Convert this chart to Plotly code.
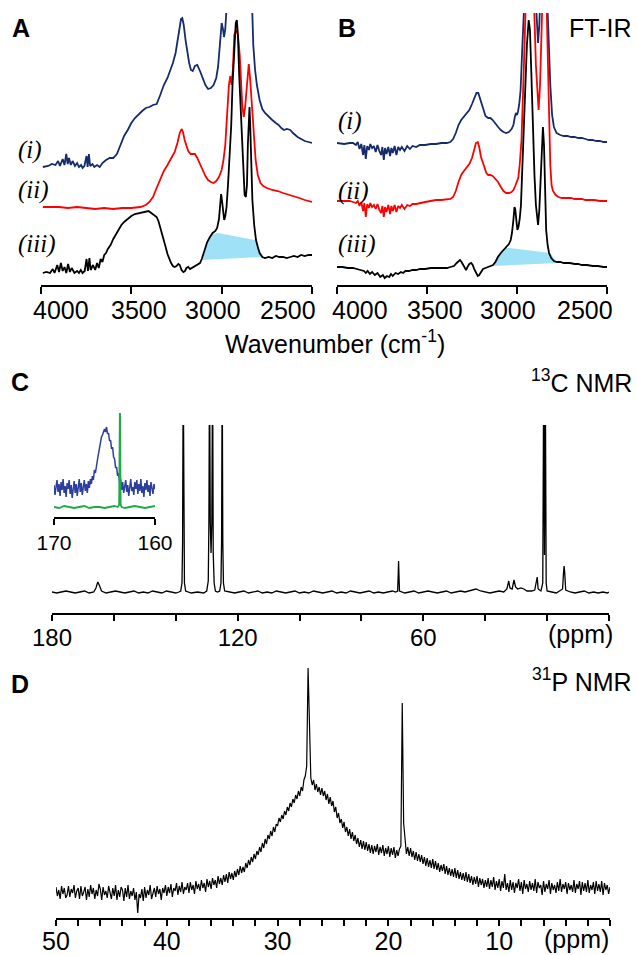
import plotly.graph_objects as go

W, H = 637, 955


def fx(p):
    return p / W


def fy(p):
    return 1 - p / H


# ---------------- FT-IR (A) : (wavenumber cm-1, absorbance a.u.) ----------------
A_I = [(3990, 118), (3960, 119), (3940, 121), (3920, 120), (3905, 124), (3895, 119), (3880, 126),
       (3870, 120), (3860, 131), (3852, 121), (3845, 127), (3835, 120), (3825, 124), (3812, 119),
       (3800, 122), (3790, 118), (3778, 120), (3770, 117), (3760, 119), (3748, 129), (3742, 118),
       (3735, 131), (3728, 119), (3715, 121), (3705, 118), (3690, 120), (3675, 118), (3660, 122),
       (3640, 125), (3620, 127), (3600, 127), (3580, 131), (3560, 140), (3540, 149), (3520, 155),
       (3500, 162), (3480, 167), (3460, 171), (3440, 174), (3420, 177), (3400, 178), (3380, 180),
       (3360, 181), (3340, 190), (3320, 200), (3300, 207), (3285, 214), (3270, 222), (3255, 232),
       (3245, 245), (3235, 258), (3225, 266), (3218, 267), (3210, 260), (3200, 245), (3190, 232),
       (3180, 222), (3170, 215), (3160, 214), (3148, 219), (3135, 220), (3120, 214), (3105, 207),
       (3090, 200), (3075, 196), (3060, 197), (3045, 200), (3030, 207), (3020, 218), (3012, 238),
       (3005, 258), (3000, 262), (2993, 256), (2987, 248), (2980, 256), (2972, 275), (2960, 330),
       (2945, 380), (2925, 420), (2905, 360), (2890, 330), (2870, 360), (2850, 400), (2835, 300),
       (2825, 240), (2815, 215), (2805, 200), (2790, 185), (2775, 176), (2760, 172), (2740, 168),
       (2720, 165), (2700, 162), (2685, 160), (2670, 157), (2655, 155), (2640, 156), (2620, 155),
       (2605, 152), (2580, 148), (2560, 146), (2540, 144), (2520, 143), (2500, 142)]

A_II = [(3990, 78), (3900, 78), (3850, 77), (3800, 78), (3750, 77), (3700, 76), (3650, 77),
        (3600, 76), (3550, 77), (3500, 77), (3450, 78), (3420, 80), (3400, 83), (3380, 88),
        (3360, 97), (3340, 106), (3320, 114), (3300, 120), (3280, 126), (3260, 133), (3245, 142),
        (3232, 152), (3222, 156), (3214, 153), (3205, 145), (3195, 138), (3185, 134), (3172, 131),
        (3160, 131), (3148, 131), (3135, 127), (3120, 120), (3105, 115), (3090, 109), (3075, 105),
        (3060, 103), (3045, 102), (3030, 104), (3015, 108), (3000, 115), (2990, 125), (2980, 140),
        (2970, 175), (2960, 200), (2952, 209), (2945, 200), (2938, 215), (2930, 250), (2920, 255),
        (2910, 250), (2900, 230), (2893, 200), (2886, 180), (2878, 168), (2870, 178), (2860, 200),
        (2850, 221), (2842, 205), (2832, 180), (2822, 150), (2812, 125), (2800, 110), (2785, 102),
        (2770, 99), (2750, 97), (2720, 95), (2690, 94), (2660, 92), (2640, 91), (2620, 90),
        (2600, 89), (2570, 87), (2540, 85), (2520, 84), (2500, 83)]

A_III = [(3990, 12), (3970, 13), (3950, 12), (3935, 16), (3925, 12), (3910, 20), (3900, 13),
         (3890, 22), (3880, 14), (3870, 18), (3860, 12), (3850, 21), (3840, 13), (3830, 17),
         (3815, 12), (3800, 14), (3790, 12), (3780, 15), (3770, 12), (3758, 14), (3748, 26),
         (3740, 14), (3732, 27), (3725, 15), (3712, 20), (3700, 15), (3690, 22), (3680, 17),
         (3670, 26), (3660, 23), (3650, 30), (3640, 32), (3630, 36), (3615, 40), (3600, 46),
         (3585, 51), (3570, 55), (3555, 60), (3540, 63), (3520, 66), (3500, 69), (3480, 71),
         (3460, 72), (3440, 73), (3420, 74), (3405, 74), (3390, 72), (3375, 70), (3360, 68),
         (3350, 64), (3340, 58), (3330, 52), (3320, 45), (3310, 38), (3300, 31), (3290, 26),
         (3280, 22), (3270, 19), (3260, 18), (3250, 19), (3240, 21), (3232, 20), (3222, 15),
         (3212, 13), (3203, 14), (3195, 17), (3185, 18), (3175, 16), (3165, 17), (3150, 19),
         (3135, 20), (3120, 22), (3110, 26), (3100, 31), (3090, 38), (3080, 43), (3065, 48),
         (3050, 52), (3035, 54), (3025, 57), (3015, 66), (3008, 85), (3003, 91), (2998, 84),
         (2992, 70), (2986, 65), (2980, 69), (2973, 78), (2965, 100), (2955, 135), (2947, 160),
         (2940, 200), (2930, 240), (2922, 262), (2916, 265), (2910, 250), (2903, 210), (2896, 180),
         (2888, 140), (2880, 110), (2873, 90), (2866, 88), (2860, 100), (2855, 140), (2850, 175),
         (2846, 178), (2842, 160), (2836, 115), (2830, 85), (2820, 60), (2810, 45), (2800, 38),
         (2790, 32), (2775, 28), (2760, 27), (2740, 28), (2720, 27), (2700, 29), (2680, 28),
         (2660, 28), (2640, 27), (2620, 28), (2600, 29), (2580, 28), (2560, 30), (2540, 29),
         (2520, 30), (2500, 30)]

A_AREA = [(3105, 25), (3090, 38), (3080, 43), (3065, 48), (3050, 51), (3020, 52),
          (2816, 45), (2771, 28)]

# ---------------- FT-IR (B) ----------------
B_I = [(4000, 142), (3960, 141), (3930, 142), (3911, 142), (3895, 140), (3885, 143), (3875, 136),
       (3865, 141), (3855, 130), (3848, 140), (3840, 126), (3832, 139), (3822, 135), (3815, 141),
       (3805, 137), (3795, 139), (3785, 133), (3775, 140), (3765, 134), (3755, 130), (3748, 138),
       (3740, 125), (3733, 137), (3725, 131), (3715, 138), (3705, 129), (3698, 137), (3690, 132),
       (3680, 139), (3670, 130), (3660, 138), (3650, 135), (3640, 138), (3625, 134), (3610, 139),
       (3595, 136), (3580, 139), (3560, 138), (3540, 140), (3510, 140), (3480, 141), (3450, 141),
       (3420, 142), (3390, 142), (3370, 143), (3355, 146), (3340, 152), (3325, 160), (3310, 165),
       (3295, 168), (3280, 171), (3265, 175), (3250, 181), (3235, 188), (3225, 192), (3215, 192),
       (3205, 186), (3195, 179), (3185, 173), (3175, 169), (3160, 167), (3148, 167), (3135, 165),
       (3120, 161), (3105, 158), (3090, 155), (3075, 153), (3060, 152), (3045, 153), (3030, 156),
       (3020, 160), (3012, 168), (3006, 172), (3000, 170), (2995, 173), (2988, 180), (2980, 195),
       (2970, 240), (2960, 290), (2945, 380), (2930, 400), (2915, 350), (2900, 300), (2890, 260),
       (2883, 242), (2876, 260), (2866, 320), (2850, 400), (2835, 300), (2825, 240), (2815, 200),
       (2805, 170), (2795, 158), (2780, 152), (2760, 150), (2740, 149), (2720, 149), (2700, 148),
       (2680, 148), (2660, 147), (2640, 147), (2620, 146), (2600, 145), (2580, 145), (2560, 144),
       (2540, 144), (2520, 143), (2500, 143)]

B_II = [(4000, 84), (3960, 84), (3930, 84), (3911, 83), (3895, 82), (3885, 84), (3875, 79),
        (3865, 83), (3855, 74), (3848, 82), (3840, 68), (3832, 81), (3822, 77), (3815, 82),
        (3805, 78), (3795, 80), (3785, 76), (3775, 81), (3765, 75), (3755, 72), (3748, 79),
        (3740, 68), (3733, 78), (3725, 73), (3715, 80), (3705, 71), (3698, 79), (3690, 74),
        (3680, 80), (3670, 73), (3660, 79), (3650, 77), (3640, 80), (3625, 76), (3610, 80),
        (3595, 79), (3580, 81), (3560, 81), (3540, 82), (3510, 83), (3480, 84), (3450, 85),
        (3420, 85), (3390, 86), (3370, 86), (3355, 88), (3340, 94), (3325, 103), (3310, 110),
        (3295, 114), (3280, 117), (3265, 121), (3250, 127), (3240, 135), (3228, 142), (3218, 143),
        (3210, 138), (3200, 128), (3190, 123), (3180, 117), (3170, 112), (3160, 110), (3148, 110),
        (3135, 109), (3120, 106), (3105, 103), (3090, 98), (3075, 94), (3060, 92), (3045, 92),
        (3030, 93), (3020, 95), (3010, 99), (3000, 103), (2993, 107), (2985, 120), (2975, 145),
        (2965, 200), (2955, 280), (2940, 350), (2920, 330), (2905, 280), (2895, 220), (2885, 180),
        (2880, 175), (2872, 200), (2862, 280), (2850, 340), (2838, 300), (2830, 230), (2822, 160),
        (2815, 120), (2808, 100), (2800, 94), (2785, 90), (2770, 88), (2750, 87), (2730, 87),
        (2700, 87), (2680, 86), (2660, 86), (2640, 86), (2620, 85), (2600, 85), (2570, 85),
        (2540, 84), (2500, 84)]

B_III = [(4000, 18), (3970, 18), (3940, 17), (3911, 17), (3890, 16), (3870, 15), (3850, 14),
         (3840, 12), (3830, 14), (3817, 11), (3805, 13), (3790, 10), (3775, 12), (3760, 8),
         (3745, 10), (3735, 7), (3722, 9), (3710, 8), (3700, 11), (3690, 9), (3675, 12), (3660, 11),
         (3645, 13), (3633, 12), (3620, 14), (3600, 14), (3580, 15), (3560, 15), (3539, 16),
         (3510, 16), (3480, 17), (3450, 17), (3420, 17), (3389, 17), (3370, 18), (3350, 19),
         (3335, 22), (3325, 24), (3317, 25), (3308, 23), (3300, 20), (3292, 17), (3283, 15),
         (3275, 18), (3265, 21), (3255, 22), (3246, 20), (3238, 16), (3228, 12), (3218, 9),
         (3210, 10), (3200, 13), (3189, 16), (3175, 17), (3161, 18), (3145, 19), (3133, 20),
         (3120, 23), (3106, 28), (3090, 32), (3075, 35), (3060, 38), (3045, 41), (3035, 45),
         (3028, 52), (3020, 65), (3014, 78), (3010, 76), (3004, 62), (2998, 55), (2992, 58),
         (2985, 66), (2978, 80), (2970, 120), (2962, 170), (2955, 200), (2945, 240), (2935, 265),
         (2928, 255), (2920, 210), (2911, 152), (2903, 110), (2895, 80), (2888, 64), (2883, 60),
         (2876, 75), (2868, 110), (2862, 145), (2856, 158), (2850, 140), (2844, 80), (2838, 55),
         (2830, 40), (2822, 32), (2810, 27), (2795, 24), (2778, 23), (2760, 23), (2740, 22),
         (2720, 22), (2706, 22), (2680, 21), (2660, 21), (2640, 20), (2611, 20), (2580, 19),
         (2550, 19), (2520, 18), (2500, 18)]

B_AREA = [(3133, 19), (3120, 23), (3106, 28), (3090, 32), (3075, 35), (3060, 37), (3040, 37),
          (2817, 32), (2772, 22)]

IR_TICKS = [4000, 3500, 3000, 2500]

# ---------------- 13C NMR (C) : (ppm, intensity) ----------------
C_MAIN = [(180, 21), (178.5, 20), (177, 21), (175.5, 22), (174, 21), (172.5, 20), (171, 21),
          (169.5, 22), (168, 20), (166.5, 21), (165.8, 25),
          (165.2, 31), (164.6, 27), (164.0, 22), (162.5, 20), (161, 21), (159.5, 22), (158, 21),
          (156.5, 20), (155, 21), (153.5, 22), (152, 20), (150.5, 21), (149, 20), (147.5, 22),
          (146, 21), (144.5, 20), (143, 22), (141.5, 21), (140, 20), (139, 21), (138.4, 22),
          (138.0, 30),
          (137.8, 70), (137.6, 250), (137.4, 70), (137.2, 30), (136.8, 22), (135, 20), (133, 21),
          (131, 20), (130.0, 22), (129.5, 32), (129.3, 90), (129.1, 250), (128.85, 90),
          (128.6, 60), (128.35, 90), (128.1, 250), (127.9, 60), (127.6, 30), (127.2, 22),
          (126.5, 21), (125.8, 22), (125.4, 30), (125.2, 70), (125.0, 250), (124.8, 70),
          (124.6, 30), (124.2, 22), (122.5, 21), (121, 20), (119.5, 21), (118, 22), (116.5, 20),
          (115, 21), (113.5, 22), (112, 20), (110.5, 21), (109, 20), (107.5, 22), (106, 21),
          (104.5, 20), (103, 21), (101.5, 22), (100, 20), (98.5, 21), (97, 20), (95.5, 22),
          (94, 21), (92.5, 20), (91, 21), (89.5, 22), (88, 20), (86.5, 21), (85, 20), (83.5, 22),
          (82, 21), (80.5, 20), (79, 21), (77.5, 22), (76, 20), (74.5, 21), (73, 20), (71.5, 21),
          (70, 22), (69, 21), (68.3, 22), (68.1, 40),
          (68.0, 52), (67.9, 40), (67.7, 22), (66, 20), (64.5, 21), (63, 22), (61.5, 20),
          (60, 21), (58.5, 22), (57, 21), (55.5, 20), (54, 21), (52.5, 22), (51, 20), (49.5, 21),
          (48, 22), (46.5, 21), (45, 22), (43, 24), (41.5, 22), (40, 21), (38.5, 20), (37, 21),
          (35.5, 22), (34, 21), (33, 24), (32.4, 32), (32.0, 25), (31.3, 24), (30.7, 33),
          (30.2, 26), (29.5, 24), (28.5, 25), (27.5, 24), (26.5, 22), (25, 22), (24, 23),
          (23.5, 30),
          (23.2, 36), (22.9, 24), (22.0, 22), (21.4, 30), (21.1, 250), (20.85, 58), (20.6, 250),
          (20.3, 30), (20.0, 22), (18.5, 21), (17, 20), (16, 22), (15.0, 24), (14.7, 40),
          (14.5, 47), (14.3, 40), (14.0, 23), (12.5, 21), (11, 20), (9.5, 21), (8, 22), (6.5, 20),
          (5, 21), (3.5, 20), (2, 21), (0.5, 20), (0, 21)]

C_INSET_BLUE = [(170.0, 32), (169.9, 22), (169.8, 30), (169.7, 37), (169.6, 25), (169.5, 33),
                (169.4, 21), (169.3, 35), (169.2, 27), (169.1, 38), (169.0, 24), (168.9, 31),
                (168.8, 20), (168.7, 34), (168.6, 28), (168.5, 37), (168.4, 23), (168.3, 32),
                (168.2, 19), (168.1, 30), (168.0, 36), (167.9, 24), (167.8, 33), (167.7, 21),
                (167.6, 29), (167.5, 38), (167.4, 25), (167.3, 34), (167.2, 22), (167.1, 31),
                (167.0, 37), (166.9, 26), (166.8, 33), (166.7, 24), (166.6, 36), (166.5, 29),
                (166.4, 38), (166.3, 33), (166.2, 41), (166.1, 37), (166.0, 47), (165.9, 44),
                (165.8, 54), (165.7, 57), (165.6, 63), (165.5, 69), (165.4, 72), (165.3, 80),
                (165.2, 82), (165.1, 86), (165.0, 88), (164.9, 85), (164.8, 90), (164.7, 83),
                (164.6, 84), (164.5, 76), (164.4, 77), (164.3, 68), (164.2, 70), (164.1, 60),
                (164.0, 58), (163.9, 49), (163.8, 50), (163.7, 41), (163.6, 44), (163.5, 34),
                (163.4, 38), (163.3, 27), (163.2, 35), (163.1, 24), (163.0, 33), (162.9, 37),
                (162.8, 25), (162.7, 32), (162.6, 21), (162.5, 34), (162.4, 38), (162.3, 26),
                (162.2, 30), (162.1, 22), (162.0, 35), (161.9, 28), (161.8, 37), (161.7, 23),
                (161.6, 33), (161.5, 26), (161.4, 38), (161.3, 24), (161.2, 31), (161.1, 20),
                (161.0, 34), (160.9, 27), (160.8, 37), (160.7, 25), (160.6, 32), (160.5, 21),
                (160.4, 35), (160.3, 29), (160.2, 23), (160.1, 33), (160.0, 28)]

C_INSET_GREEN = [(170, 10), (169.5, 9), (169, 11), (168.5, 10), (168, 9), (167.5, 10), (167, 11),
                 (166.5, 9), (166, 10), (165.5, 10), (165, 9), (164.5, 10), (164, 11),
                 (163.7, 10), (163.55, 12), (163.47, 120), (163.4, 12), (163.3, 10), (163, 9),
                 (162.5, 10), (162, 11), (161.5, 10), (161, 9), (160.5, 10), (160, 11)]

C_LABEL_TICKS = [180, 120, 60]
C_MINOR_TICKS = [160, 140, 100, 80, 40, 20, 0]
C_INSET_TICKS = [170, 160]

# ---------------- 31P NMR (D) ----------------
D_PPM = [50.0, 49.875, 49.75, 49.625, 49.5, 49.375, 49.25, 49.125,
         49.0, 48.875, 48.75, 48.625, 48.5, 48.375, 48.25, 48.125,
         48.0, 47.875, 47.75, 47.625, 47.5, 47.375, 47.25, 47.125,
         47.0, 46.875, 46.75, 46.625, 46.5, 46.375, 46.25, 46.125,
         46.0, 45.875, 45.75, 45.625, 45.5, 45.375, 45.25, 45.125,
         45.0, 44.875, 44.75, 44.625, 44.5, 44.375, 44.25, 44.125,
         44.0, 43.875, 43.75, 43.625, 43.5, 43.375, 43.25, 43.125,
         43.0, 42.875, 42.75, 42.625, 42.5, 42.375, 42.25, 42.125,
         42.0, 41.875, 41.75, 41.625, 41.5, 41.375, 41.25, 41.125,
         41.0, 40.875, 40.75, 40.625, 40.5, 40.375, 40.25, 40.125,
         40.0, 39.875, 39.75, 39.625, 39.5, 39.375, 39.25, 39.125,
         39.0, 38.875, 38.75, 38.625, 38.5, 38.375, 38.25, 38.125,
         38.0, 37.875, 37.75, 37.625, 37.5, 37.375, 37.25, 37.125,
         37.0, 36.875, 36.75, 36.625, 36.5, 36.375, 36.25, 36.125,
         36.0, 35.875, 35.75, 35.625, 35.5, 35.375, 35.25, 35.125,
         35.0, 34.875, 34.75, 34.625, 34.5, 34.375, 34.25, 34.125,
         34.0, 33.875, 33.75, 33.625, 33.5, 33.375, 33.25, 33.125,
         33.0, 32.875, 32.75, 32.625, 32.5, 32.375, 32.25, 32.125,
         32.0, 31.875, 31.75, 31.625, 31.5, 31.375, 31.25, 31.125,
         31.0, 30.875, 30.75, 30.625, 30.5, 30.375, 30.25, 30.125,
         30.0, 29.875, 29.75, 29.625, 29.5, 29.375, 29.25, 29.125,
         29.0, 28.875, 28.75, 28.625, 28.5, 28.375, 28.25, 28.125,
         28.0, 27.875, 27.75, 27.625, 27.5, 27.375, 27.25, 27.125,
         27.0, 26.875, 26.75, 26.625, 26.5, 26.375, 26.25, 26.125,
         26.0, 25.875, 25.75, 25.625, 25.5, 25.375, 25.25, 25.125,
         25.0, 24.875, 24.75, 24.625, 24.5, 24.375, 24.25, 24.125,
         24.0, 23.875, 23.75, 23.625, 23.5, 23.375, 23.25, 23.125,
         23.0, 22.875, 22.75, 22.625, 22.5, 22.375, 22.25, 22.125,
         22.0, 21.875, 21.75, 21.625, 21.5, 21.375, 21.25, 21.125,
         21.0, 20.875, 20.75, 20.625, 20.5, 20.375, 20.25, 20.125,
         20.0, 19.875, 19.75, 19.625, 19.5, 19.375, 19.25, 19.125,
         19.0, 18.875, 18.75, 18.625, 18.5, 18.375, 18.25, 18.125,
         18.0, 17.875, 17.75, 17.625, 17.5, 17.375, 17.25, 17.125,
         17.0, 16.875, 16.75, 16.625, 16.5, 16.375, 16.25, 16.125,
         16.0, 15.875, 15.75, 15.625, 15.5, 15.375, 15.25, 15.125,
         15.0, 14.875, 14.75, 14.625, 14.5, 14.375, 14.25, 14.125,
         14.0, 13.875, 13.75, 13.625, 13.5, 13.375, 13.25, 13.125,
         13.0, 12.875, 12.75, 12.625, 12.5, 12.375, 12.25, 12.125,
         12.0, 11.875, 11.75, 11.625, 11.5, 11.375, 11.25, 11.125,
         11.0, 10.875, 10.75, 10.625, 10.5, 10.375, 10.25, 10.125,
         10.0, 9.875, 9.75, 9.625, 9.5, 9.375, 9.25, 9.125,
         9.0, 8.875, 8.75, 8.625, 8.5, 8.375, 8.25, 8.125,
         8.0, 7.875, 7.75, 7.625, 7.5, 7.375, 7.25, 7.125,
         7.0, 6.875, 6.75, 6.625, 6.5, 6.375, 6.25, 6.125,
         6.0, 5.875, 5.75, 5.625, 5.5, 5.375, 5.25, 5.125,
         5.0, 4.875, 4.75, 4.625, 4.5, 4.375, 4.25, 4.125,
         4.0, 3.875, 3.75, 3.625, 3.5, 3.375, 3.25, 3.125,
         3.0, 2.875, 2.75, 2.625, 2.5, 2.375, 2.25, 2.125,
         2.0, 1.875, 1.75, 1.625, 1.5, 1.375, 1.25, 1.125,
         1.0, 0.875, 0.75, 0.625, 0.5, 0.375, 0.25, 0.125,
         0.0]

D_INT = [31, 22, 28, 19, 32, 24, 30, 20,
         23, 32, 21, 29, 25, 33, 20, 27,
         30, 19, 32, 22, 26, 31, 18, 29,
         21, 33, 24, 30, 19, 28, 22, 34,
         29, 18, 31, 23, 27, 20, 32, 24,
         19, 30, 22, 33, 18, 28, 21, 31,
         28, 17, 30, 21, 33, 19, 27, 22,
         30, 18, 26, 5, 24, 20, 29, 17,
         31, 20, 28, 23, 33, 19, 26, 30,
         21, 32, 24, 29, 18, 30, 25, 33,
         22, 31, 25, 34, 21, 30, 27, 35,
         23, 32, 26, 36, 24, 31, 28, 35,
         25, 36, 28, 33, 24, 37, 29, 34,
         27, 38, 30, 35, 26, 39, 31, 37,
         29, 40, 33, 38, 30, 42, 34, 40,
         33, 43, 36, 44, 35, 46, 39, 45,
         38, 47, 41, 49, 43, 52, 45, 51,
         46, 55, 50, 58, 53, 61, 56, 64,
         59, 67, 63, 71, 66, 75, 70, 79,
         74, 83, 79, 87, 82, 91, 86, 94,
         92, 100, 96, 103, 99, 107, 103, 111,
         107, 115, 111, 119, 115, 123, 119, 127,
         122, 131, 127, 138, 142, 152, 250, 175,
         140, 133, 138, 128, 134, 126, 131, 123,
         130, 122, 127, 118, 124, 114, 121, 112,
         117, 106, 111, 100, 105, 95, 99, 90,
         96, 86, 91, 82, 89, 79, 86, 77,
         83, 74, 80, 71, 78, 69, 77, 68,
         76, 67, 74, 65, 73, 64, 72, 66,
         74, 63, 71, 65, 73, 62, 70, 64,
         72, 61, 70, 63, 71, 60, 68, 62,
         69, 72, 215, 95, 74, 64, 71, 62,
         70, 61, 67, 58, 66, 57, 64, 56,
         63, 54, 61, 52, 60, 51, 58, 50,
         59, 49, 57, 48, 55, 46, 53, 47,
         54, 44, 52, 43, 50, 42, 49, 41,
         50, 40, 48, 39, 46, 38, 45, 37,
         46, 36, 44, 35, 42, 33, 41, 34,
         42, 31, 40, 33, 39, 30, 38, 31,
         40, 29, 38, 31, 41, 28, 37, 30,
         39, 27, 37, 30, 44, 28, 35, 26,
         38, 28, 36, 25, 35, 30, 39, 27,
         36, 24, 38, 29, 34, 26, 37, 28,
         35, 27, 39, 25, 36, 30, 33, 23,
         37, 26, 34, 29, 38, 24, 35, 28,
         33, 25, 36, 27, 39, 26, 34, 29,
         36, 24, 35, 28, 33, 26, 38, 25,
         34, 29, 37, 23, 36, 27, 35, 26,
         38, 25, 33, 28, 36, 24, 37, 27,
         34, 26, 37, 23, 35, 28, 33, 24,
         31]

D_LABEL_TICKS = [50, 40, 30, 20, 10]
D_MINOR_TICKS = [48, 46, 44, 42, 38, 36, 34, 32, 28, 26, 24, 22, 18, 16, 14, 12, 8, 6, 4, 2, 0]

NAVY = "#152b6b"
RED = "#ff0000"
BLACK = "#000000"
CYAN = "#9fe2f8"
INSET_BLUE = "#2c3f9f"
INSET_GREEN = "#1faa48"
SANS = "Liberation Sans, Arial, sans-serif"
SERIF = "Liberation Serif, Times New Roman, serif"

fig = go.Figure()


def xs(series):
    return [p[0] for p in series]


def ys(series):
    return [p[1] for p in series]


def add_line(series_x, series_y, xa, ya, color, width):
    fig.add_trace(go.Scatter(x=series_x, y=series_y, xaxis=xa, yaxis=ya, mode="lines",
                             line=dict(color=color, width=width), hoverinfo="skip",
                             showlegend=False))


def add_area(series, xa, ya):
    fig.add_trace(go.Scatter(x=xs(series), y=ys(series), xaxis=xa, yaxis=ya, mode="lines",
                             fill="toself", fillcolor=CYAN, line=dict(width=0, color=CYAN),
                             hoverinfo="skip", showlegend=False))


# A
add_area(A_AREA, "x", "y")
add_line(xs(A_I), ys(A_I), "x", "y", NAVY, 1.8)
add_line(xs(A_II), ys(A_II), "x", "y", RED, 1.8)
add_line(xs(A_III), ys(A_III), "x", "y", BLACK, 1.8)
# B
add_area(B_AREA, "x2", "y2")
add_line(xs(B_I), ys(B_I), "x2", "y2", NAVY, 1.8)
add_line(xs(B_II), ys(B_II), "x2", "y2", RED, 1.8)
add_line(xs(B_III), ys(B_III), "x2", "y2", BLACK, 1.8)
# C
add_line(xs(C_MAIN), ys(C_MAIN), "x3", "y3", BLACK, 1.3)
add_line(xs(C_INSET_BLUE), ys(C_INSET_BLUE), "x4", "y4", INSET_BLUE, 1.5)
add_line(xs(C_INSET_GREEN), ys(C_INSET_GREEN), "x4", "y4", INSET_GREEN, 1.8)
# D
add_line(D_PPM, D_INT, "x5", "y5", BLACK, 1.2)

axis_common = dict(showline=True, linecolor="black", linewidth=2, ticks="outside", ticklen=7,
                   tickwidth=2, tickcolor="black", showgrid=False, zeroline=False,
                   automargin=False,
                   tickfont=dict(family=SANS, size=25, color="black"), fixedrange=True)
minor_common = dict(ticks="outside", ticklen=6, tickwidth=2, tickcolor="black", showgrid=False)
yhidden = dict(visible=False, showgrid=False, zeroline=False, fixedrange=True, automargin=False)

fig.update_layout(
    template="none",
    width=W, height=H, margin=dict(l=0, r=0, t=0, b=0, pad=0, autoexpand=False),
    autosize=False,
    paper_bgcolor="white", plot_bgcolor="white", showlegend=False,
    xaxis=dict(axis_common, domain=[fx(41), fx(312)], range=[4000, 2500], anchor="y",
               tickvals=IR_TICKS, showticklabels=False),
    yaxis=dict(yhidden, domain=[fy(285), fy(13)], range=[0, 272], anchor="x"),
    xaxis2=dict(axis_common, domain=[fx(337), fx(607)], range=[4000, 2500], anchor="y2",
                tickvals=IR_TICKS, showticklabels=False),
    yaxis2=dict(yhidden, domain=[fy(285), fy(13)], range=[0, 272], anchor="x2"),
    xaxis3=dict(axis_common, domain=[fx(52), fx(609)], range=[180, 0], anchor="y3",
                tickvals=C_LABEL_TICKS, ticktext=[str(v) for v in C_LABEL_TICKS], ticklen=6,
                ticklabelstandoff=-4,
                minor=dict(minor_common, tickvals=C_MINOR_TICKS),
                tickfont=dict(family=SANS, size=24, color="black")),
    yaxis3=dict(yhidden, domain=[fy(613), fy(425)], range=[0, 188], anchor="x3"),
    xaxis4=dict(axis_common, domain=[fx(54), fx(155)], range=[170, 160], anchor="y4",
                tickvals=C_INSET_TICKS, ticktext=[str(v) for v in C_INSET_TICKS], ticklen=6,
                tickfont=dict(family=SANS, size=21, color="black")),
    yaxis4=dict(yhidden, domain=[fy(517), fy(413)], range=[0, 104], anchor="x4"),
    xaxis5=dict(axis_common, domain=[fx(56), fx(610)], range=[50, 0], anchor="y5",
                tickvals=D_LABEL_TICKS, ticktext=[str(v) for v in D_LABEL_TICKS], ticklen=6,
                ticklabelstandoff=-6,
                minor=dict(minor_common, tickvals=D_MINOR_TICKS)),
    yaxis5=dict(yhidden, domain=[fy(918), fy(660)], range=[0, 258], anchor="x5"),
)

ann = []


def text(s, x, y, size=25, xanchor="center", family=SANS, color="black"):
    ann.append(dict(text=s, x=fx(x), y=fy(y), xref="paper", yref="paper", showarrow=False,
                    xanchor=xanchor, yanchor="middle",
                    font=dict(family=family, size=size, color=color)))


# panel letters and titles
text("<b>A</b>", 21, 28)
text("<b>B</b>", 347, 28)
text("<b>C</b>", 20, 382)
text("<b>D</b>", 20, 684)
text("FT-IR", 634, 28, xanchor="right")
text("<sup>13</sup>C NMR", 634, 381, xanchor="right")
text("<sup>31</sup>P NMR", 634, 680, xanchor="right")

# IR tick labels (placed as in the original figure)
for lab, cx in zip(IR_TICKS, [61, 139, 213, 288]):
    text(str(lab), cx, 310)
for lab, cx in zip(IR_TICKS, [360, 435, 508, 585]):
    text(str(lab), cx, 310)
text("Wavenumber (cm<sup>-1</sup>)", 335, 342)

text("(ppm)", 580, 634)
text("(ppm)", 576, 939)

# roman numerals
for lab, y in [("(i)", 150), ("(ii)", 190), ("(iii)", 244)]:
    text("<i>%s</i>" % lab, 16, y, size=25, xanchor="left", family=SERIF)
for lab, y in [("(i)", 121), ("(ii)", 191), ("(iii)", 244)]:
    text("<i>%s</i>" % lab, 336, y, size=25, xanchor="left", family=SERIF)

fig.update_layout(annotations=ann)
fig.write_html("out.html", config={"responsive": False, "displayModeBar": False},
               post_script="document.body.style.margin='0px';"
                           "document.body.style.overflow='hidden';")
